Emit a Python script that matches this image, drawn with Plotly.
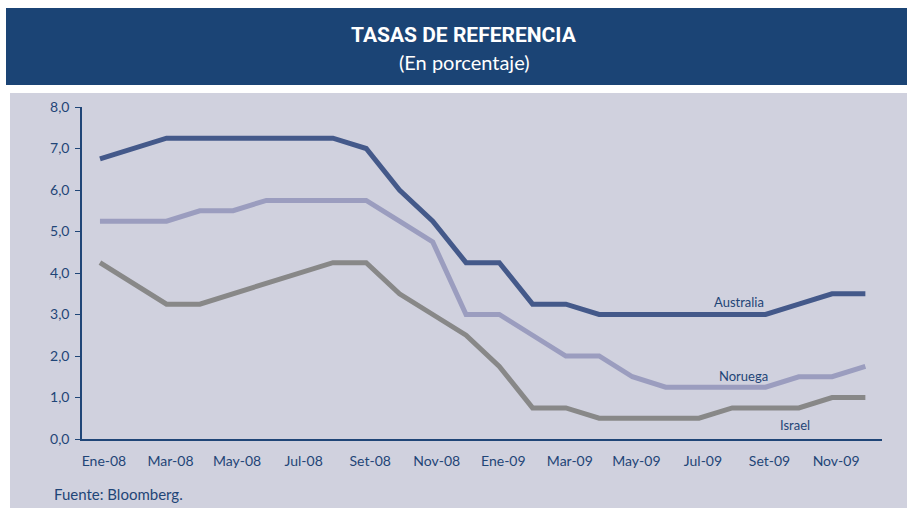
import plotly.graph_objects as go

months = ["Ene-08","Feb-08","Mar-08","Abr-08","May-08","Jun-08","Jul-08","Ago-08","Set-08","Oct-08","Nov-08","Dic-08",
          "Ene-09","Feb-09","Mar-09","Abr-09","May-09","Jun-09","Jul-09","Ago-09","Set-09","Oct-09","Nov-09","Dic-09"]
australia = [6.75,7.0,7.25,7.25,7.25,7.25,7.25,7.25,7.0,6.0,5.25,4.25,
             4.25,3.25,3.25,3.0,3.0,3.0,3.0,3.0,3.0,3.25,3.5,3.5]
noruega = [5.25,5.25,5.25,5.5,5.5,5.75,5.75,5.75,5.75,5.25,4.75,3.0,
           3.0,2.5,2.0,2.0,1.5,1.25,1.25,1.25,1.25,1.5,1.5,1.75]
israel = [4.25,3.75,3.25,3.25,3.5,3.75,4.0,4.25,4.25,3.5,3.0,2.5,
          1.75,0.75,0.75,0.5,0.5,0.5,0.5,0.75,0.75,0.75,1.0,1.0]
tick_labels = months[::2]
ytick_vals = [0,1,2,3,4,5,6,7,8]

x = list(range(len(months)))
blue_txt = "#1f4577"
fig = go.Figure()
series = [("Australia", australia, "#44598a"), ("Noruega", noruega, "#9b9dbf"), ("Israel", israel, "#888888")]
for name, vals, col in series:
    fig.add_trace(go.Scatter(x=x, y=vals, mode="lines", name=name,
                             line=dict(color=col, width=5), hoverinfo="skip"))

fig.update_layout(
    width=907, height=508,
    margin=dict(l=82, r=25, t=107, b=69),
    paper_bgcolor="white", plot_bgcolor="rgba(0,0,0,0)",
    showlegend=False,
    separators=",.",
    font=dict(family="Lato, Open Sans, sans-serif", color=blue_txt, size=14),
    shapes=[
        dict(type="rect", xref="paper", yref="paper", layer="below",
             x0=-76/800, x1=1+25/800, y0=1+(107-8)/332, y1=1+(107-85)/332,
             fillcolor="#1b4475", line=dict(width=0)),
        dict(type="rect", xref="paper", yref="paper", layer="below",
             x0=-72/800, x1=1+25/800, y0=-69/332, y1=1+(107-93)/332,
             fillcolor="#d0d1de", line=dict(width=0)),
    ],
    annotations=[
        dict(text="<b>TASAS DE REFERENCIA</b>", xref="paper", yref="paper",
             x=(464-82)/800, y=1+(107-35)/332, showarrow=False, xanchor="center", yanchor="middle",
             font=dict(family="Roboto, sans-serif", size=21, color="white")),
        dict(text="(En porcentaje)", xref="paper", yref="paper",
             x=(464-82)/800, y=1+(107-62)/332, showarrow=False, xanchor="center", yanchor="middle",
             font=dict(family="Lato, sans-serif", size=20, color="white")),
        dict(text="Fuente: Bloomberg.", xref="paper", yref="paper",
             x=(52-82)/800, y=-(494-439)/332, showarrow=False, xanchor="left", yanchor="middle",
             font=dict(size=15, color=blue_txt)),
        dict(text="Australia", x=19.2, y=3.3, showarrow=False, xanchor="center", yanchor="middle",
             font=dict(size=13, color=blue_txt)),
        dict(text="Noruega", x=19.35, y=1.53, showarrow=False, xanchor="center", yanchor="middle",
             font=dict(size=13, color=blue_txt)),
        dict(text="Israel", x=20.9, y=0.34, showarrow=False, xanchor="center", yanchor="middle",
             font=dict(size=13, color=blue_txt)),
    ],
)
fig.update_xaxes(range=[-0.54, 23.5], tickmode="array", tickvals=x[::2], ticktext=tick_labels,
                 showgrid=False, zeroline=False, showline=True, linecolor=blue_txt, linewidth=1.5,
                 ticks="", ticklabelshift=4, ticklabelstandoff=8,
                 tickfont=dict(size=14, color=blue_txt))
fig.update_yaxes(range=[0, 8], tickmode="array", tickvals=ytick_vals, tickformat=".1f",
                 showgrid=False, zeroline=False, showline=True, linecolor=blue_txt, linewidth=1.5,
                 ticks="outside", ticklen=5, tickcolor=blue_txt, ticklabelstandoff=3,
                 tickfont=dict(size=14, color=blue_txt))

fig.write_html("out.html", config={"displayModeBar": False},
               post_script="document.body.style.margin='0';document.body.style.overflow='hidden';")
